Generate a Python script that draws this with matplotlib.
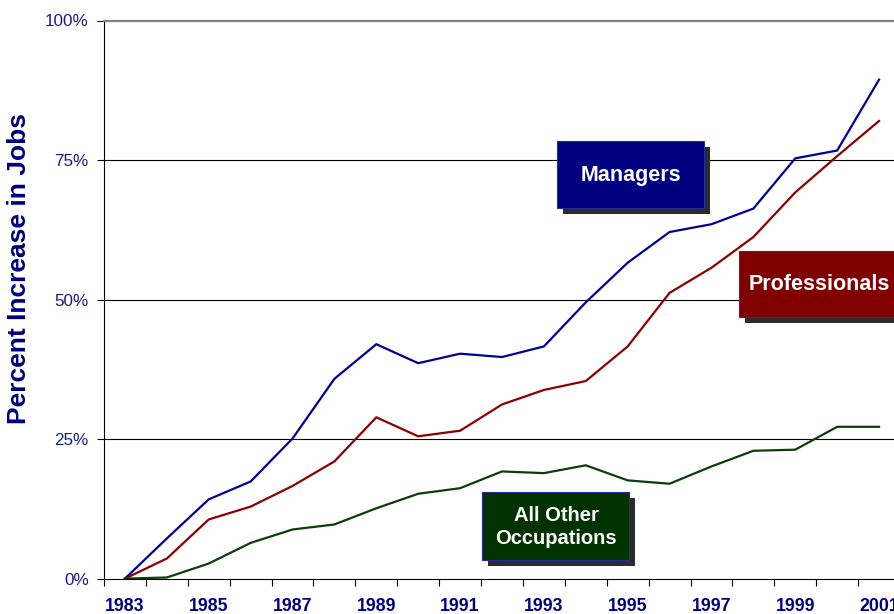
import matplotlib
matplotlib.use("Agg")
import matplotlib.pyplot as plt
from matplotlib.patches import Rectangle
from matplotlib.ticker import FixedLocator, NullFormatter

plt.rcParams['font.family'] = ['Liberation Sans', 'DejaVu Sans']

years = list(range(1983, 2002))
managers = [0, 7.2, 14.2, 17.4, 25.1, 35.8, 42.0, 38.6, 40.3, 39.7, 41.6, 49.5,
            56.6, 62.1, 63.5, 66.3, 75.3, 76.7, 89.4]
professionals = [0, 3.6, 10.6, 12.9, 16.6, 21.0, 28.9, 25.5, 26.5, 31.2, 33.8, 35.4,
                 41.6, 51.2, 55.7, 61.2, 69.2, 75.7, 82.0]
other = [0, 0.2, 2.7, 6.4, 8.8, 9.7, 12.6, 15.2, 16.2, 19.2, 18.9, 20.3,
         17.6, 17.0, 20.1, 22.9, 23.1, 27.2, 27.2]
ytick_vals = [0, 25, 50, 75, 100]
ytick_labels = ['0%', '25%', '50%', '75%', '100%']
xlabel_years = [str(y) if (y - 1983) % 2 == 0 else '' for y in years]

W, H = 895, 614
fig = plt.figure(figsize=(W / 100, H / 100), dpi=100)
left_px, right_px, top_px, bot_px = 104, 900, 20.5, 578.6
ax = fig.add_axes([left_px / W, 1 - bot_px / H, (right_px - left_px) / W, (bot_px - top_px) / H])

navy = '#000080'
xs = list(range(len(years)))
ax.plot(xs, managers, color='#000099', lw=1.6, zorder=3)
ax.plot(xs, professionals, color='#8b0000', lw=1.6, zorder=3)
ax.plot(xs, other, color='#0b3d0b', lw=1.6, zorder=3)

ax.set_xlim(-0.5, len(years) - 0.5)
ax.set_ylim(0, 100)

for v in ytick_vals[1:-1]:
    ax.axhline(v, color='black', lw=0.8, zorder=1)

ax.set_yticks(ytick_vals)
ax.set_yticklabels(ytick_labels, color='#1a1a90', fontsize=12.3)
ax.tick_params(axis='y', length=5, width=0.8, pad=6, direction='out')

ax.xaxis.set_major_locator(FixedLocator([i - 0.5 for i in range(len(years) + 1)]))
ax.xaxis.set_major_formatter(NullFormatter())
ax.xaxis.set_minor_locator(FixedLocator(xs))
ax.set_xticklabels(xlabel_years, minor=True, color=navy, fontsize=12.8, fontweight='bold')
ax.tick_params(axis='x', which='major', length=5, width=0.8, direction='out')
ax.tick_params(axis='x', which='minor', length=0, pad=14)

ax.spines['right'].set_visible(False)
ax.spines['top'].set_color('#808080')
ax.spines['top'].set_linewidth(1.6)
ax.spines['left'].set_linewidth(0.8)
ax.spines['bottom'].set_linewidth(0.8)

fig.text(19 / W, 1 - 269 / H, 'Percent Increase in Jobs', rotation=90, ha='center', va='center',
         color=navy, fontsize=19, fontweight='bold')


def label_box(x0, y0, x1, y1, fill, text, tx, ty, fs):
    sh = 6
    fig.add_artist(Rectangle(((x0 + sh) / W, 1 - (y1 + sh) / H), (x1 - x0) / W, (y1 - y0) / H,
                             transform=fig.transFigure, facecolor='#2b2b2b', edgecolor='none', zorder=5))
    fig.add_artist(Rectangle((x0 / W, 1 - y1 / H), (x1 - x0) / W, (y1 - y0) / H,
                             transform=fig.transFigure, facecolor=fill, edgecolor='#2a2a9a', lw=0.8, zorder=6))
    fig.text(tx / W, 1 - ty / H, text, ha='center', va='center', color='white',
             fontsize=fs, fontweight='bold', zorder=7, linespacing=1.25)


label_box(557, 141, 704, 208, '#000080', 'Managers', 631, 176, 15.5)
label_box(739, 251, 905, 317, '#800000', 'Professionals', 819, 284.5, 15.5)
label_box(482, 492, 629, 560, '#003300', 'All Other\nOccupations', 556, 527, 14.5)

fig.savefig('out.png', dpi=100)
